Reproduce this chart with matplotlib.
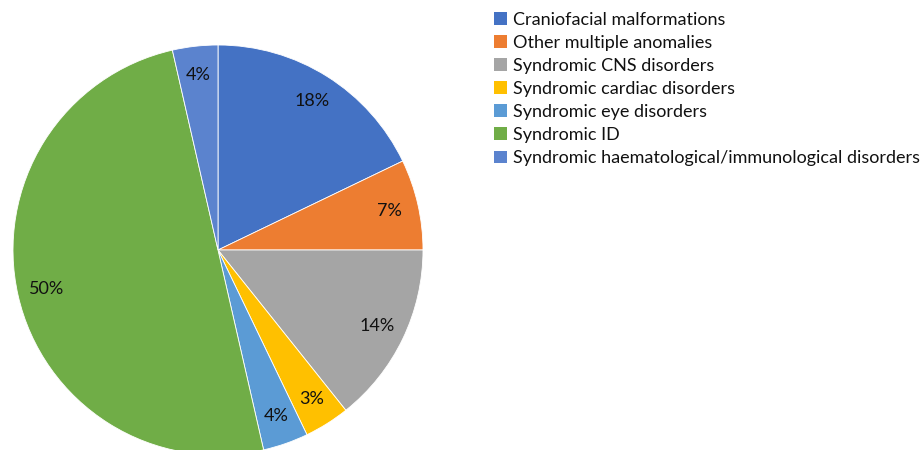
import matplotlib
matplotlib.use("Agg")
import matplotlib.pyplot as plt
from matplotlib.patches import Patch
import numpy as np

# counts per category (labels as shown on chart)
categories = ["Craniofacial malformations", "Other multiple anomalies",
              "Syndromic CNS disorders", "Syndromic cardiac disorders",
              "Syndromic eye disorders", "Syndromic ID",
              "Syndromic haematological/immunological disorders"]
counts = [10, 4, 8, 2, 2, 28, 2]
pct_labels = ["18%", "7%", "14%", "3%", "4%", "50%", "4%"]
colors = ["#4472C4", "#ED7D31", "#A5A5A5", "#FFC000", "#5B9BD5", "#70AD47", "#5B83CE"]

plt.rcParams['font.family'] = ['Lato', 'DejaVu Sans']

fig = plt.figure(figsize=(9.22, 4.5), dpi=100)
# pie centre (218, 250) px, radius ~205 px
cx, cy, r = 218, 250, 205
ax = fig.add_axes([(cx - r) / 922, (450 - cy - r) / 450, 2 * r / 922, 2 * r / 450])

wedges, _ = ax.pie(counts, colors=colors, startangle=90, counterclock=False,
                   wedgeprops=dict(edgecolor="white", linewidth=0.6))
ax.set_xlim(-1, 1)
ax.set_ylim(-1, 1)
ax.set_aspect("auto")

# data labels inside slices
total = sum(counts)
cum = 0
for c, lab in zip(counts, pct_labels):
    mid = (cum + c / 2) / total * 2 * np.pi
    cum += c
    ax.text(0.86 * np.sin(mid), 0.86 * np.cos(mid), lab,
            ha="center", va="center", fontsize=13, color="#111111")

handles = [Patch(facecolor=col, edgecolor="none") for col in colors]
fig.legend(handles, categories, loc="upper left",
           bbox_to_anchor=(494 / 922, 1 - 12 / 450),
           frameon=False, fontsize=13, handlelength=0.72, handleheight=0.72,
           handletextpad=0.35, labelspacing=0.39, borderpad=0, borderaxespad=0,
           labelcolor="#111111")

fig.savefig("out.png", dpi=100)
